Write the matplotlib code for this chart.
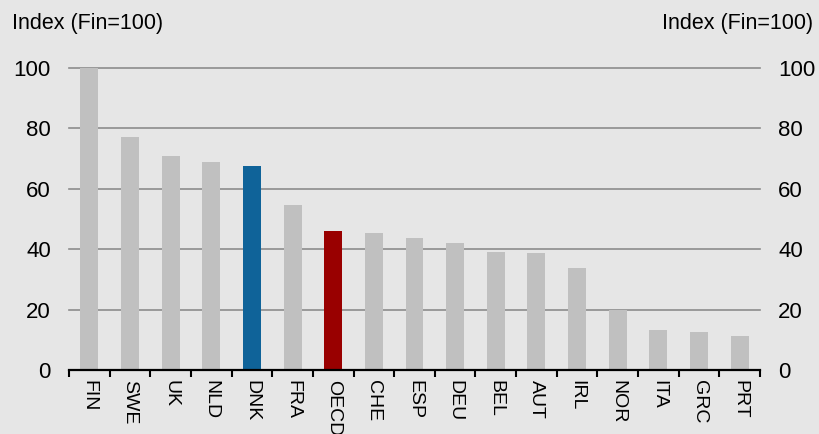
import matplotlib
matplotlib.use("Agg")
import matplotlib.pyplot as plt
import numpy as np

categories = ["FIN", "SWE", "UK", "NLD", "DNK", "FRA", "OECD", "CHE", "ESP",
              "DEU", "BEL", "AUT", "IRL", "NOR", "ITA", "GRC", "PRT"]
values = [100, 77.0, 70.7, 68.8, 67.6, 54.5, 46.0, 45.4, 43.7,
          42.0, 39.0, 38.7, 33.8, 19.9, 13.2, 12.6, 11.3]
highlight = {"DNK": "#0f6399", "OECD": "#990000"}
yticks = [0, 20, 40, 60, 80, 100]
axis_label = "Index (Fin=100)"

plt.rcParams['font.family'] = ['Liberation Sans', 'DejaVu Sans']
bg = "#e6e6e6"
fig = plt.figure(figsize=(8.19, 4.34), dpi=100, facecolor=bg)
ax = fig.add_axes([69/819, 64/434, 691/819, 302/434], facecolor=bg)

x = np.arange(len(categories))
colors = [highlight.get(c, "#c0c0c0") for c in categories]
ax.bar(x, values, width=0.44, color=colors, zorder=3)

ax.set_xlim(-0.5, len(categories) - 0.5)
ax.set_ylim(0, 100)
ax.set_yticks(yticks)
ax.set_yticklabels([str(t) for t in yticks])
ax.yaxis.grid(True, color="#8c8c8c", lw=1.2, zorder=1)
ax.set_axisbelow(True)
for gl in ax.get_ygridlines():
    gl.set_clip_on(False)
ax.tick_params(axis='y', length=0, labelsize=16, labelright=True, pad=13)

ax.set_xticks(x)
ax.set_xticklabels(categories, rotation=270, fontsize=14)
ax.tick_params(axis='x', which='major', length=0, pad=7)
ax.set_xticks(np.arange(-0.5, len(categories), 1), minor=True)
ax.tick_params(axis='x', which='minor', length=5, width=1.5, color='black', direction='out')

for s in ["top", "left", "right"]:
    ax.spines[s].set_visible(False)
ax.spines["bottom"].set_color("black")
ax.spines["bottom"].set_linewidth(1.6)
ax.spines["bottom"].set_zorder(4)

fig.text(12/819, 1 - 23/434, axis_label, fontsize=15.5, ha='left', va='center')
fig.text(813/819, 1 - 23/434, axis_label, fontsize=15.5, ha='right', va='center')

fig.savefig("out.png", dpi=100, facecolor=bg)
